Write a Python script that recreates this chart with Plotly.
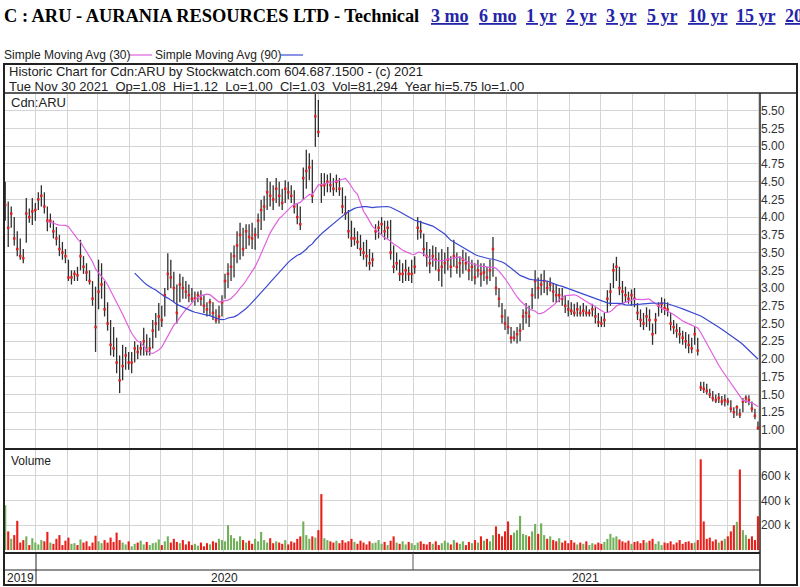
import plotly.graph_objects as go
import pandas as pd

# ---------------- data (~every 2 trading days) ----------------
high = [4.50, 4.22, 4.15, 4.00, 3.80, 3.70, 3.55, 4.27, 4.12, 4.27,
        4.20, 4.35, 4.45, 4.35, 4.15, 4.05, 3.95, 3.86, 3.75, 3.65,
        3.55, 3.40, 3.25, 3.25, 3.30, 3.68, 3.45, 3.35, 3.25, 3.10,
        3.02, 3.40, 3.35, 3.10, 2.80, 2.55, 2.45, 2.30, 2.05, 2.20,
        2.17, 2.10, 2.10, 2.25, 2.20, 2.25, 2.44, 2.35, 2.30, 2.55,
        2.65, 2.79, 2.75, 3.00, 3.49, 3.40, 3.23, 3.05, 3.20, 3.16,
        3.10, 3.05, 3.00, 2.95, 2.95, 2.97, 2.90, 2.80, 2.85, 2.80,
        2.70, 2.75, 2.90, 3.20, 3.35, 3.50, 3.60, 3.80, 3.92, 3.85,
        3.90, 3.90, 3.92, 3.85, 4.05, 4.24, 4.30, 4.55, 4.50, 4.45,
        4.55, 4.50, 4.40, 4.52, 4.50, 4.45, 4.38, 4.20, 4.15, 4.70,
        4.95, 4.90, 4.81, 5.75, 5.65, 4.62, 4.62, 4.60, 4.62, 4.55,
        4.60, 4.55, 4.42, 4.30, 4.10, 3.95, 3.85, 3.80, 3.75, 3.65,
        3.68, 3.55, 3.50, 3.90, 3.95, 4.00, 3.95, 3.95, 3.96, 3.60,
        3.50, 3.40, 3.35, 3.40, 3.30, 3.40, 3.45, 4.00, 3.95, 3.77,
        3.65, 3.55, 3.60, 3.58, 3.50, 3.55, 3.50, 3.58, 3.45, 3.68,
        3.50, 3.45, 3.54, 3.50, 3.45, 3.40, 3.35, 3.40, 3.35, 3.35,
        3.30, 3.40, 3.72, 3.16, 3.00, 2.79, 2.70, 2.60, 2.45, 2.40,
        2.45, 2.50, 2.70, 2.79, 2.75, 3.00, 3.25, 3.15, 3.20, 3.25,
        3.10, 3.15, 3.07, 3.05, 3.00, 3.00, 2.90, 2.83, 2.80, 2.78,
        2.80, 2.75, 2.79, 2.75, 2.70, 2.78, 2.73, 2.65, 2.60, 2.65,
        2.97, 3.07, 3.35, 3.44, 3.30, 3.10, 3.02, 2.95, 2.98, 3.00,
        2.79, 2.70, 2.65, 2.73, 2.70, 2.50, 2.65, 2.80, 2.87, 2.85,
        2.80, 2.65, 2.55, 2.50, 2.45, 2.40, 2.38, 2.35, 2.30, 2.45,
        2.30, 1.68, 1.68, 1.65, 1.58, 1.55, 1.50, 1.52, 1.48, 1.50,
        1.45, 1.42, 1.32, 1.35, 1.30, 1.45, 1.49, 1.49, 1.40, 1.30,
        1.12]
low = [3.95, 3.58, 3.85, 3.60, 3.45, 3.40, 3.35, 3.64, 3.92, 3.89,
       3.95, 4.10, 4.15, 4.05, 3.80, 3.85, 3.70, 3.60, 3.45, 3.40,
       3.35, 3.10, 3.05, 3.10, 3.10, 3.25, 3.20, 3.10, 3.05, 2.75,
       2.10, 2.70, 2.85, 2.60, 2.40, 2.05, 2.03, 1.80, 1.52, 1.70,
       1.85, 1.85, 1.80, 1.95, 2.00, 2.05, 2.05, 2.05, 2.05, 2.15,
       2.30, 2.40, 2.45, 2.60, 2.97, 3.00, 2.80, 2.50, 2.80, 2.85,
       2.85, 2.80, 2.80, 2.75, 2.80, 2.75, 2.65, 2.60, 2.62, 2.55,
       2.50, 2.50, 2.60, 2.85, 3.00, 3.10, 3.15, 3.35, 3.40, 3.45,
       3.55, 3.60, 3.55, 3.54, 3.70, 3.82, 3.95, 4.10, 4.15, 4.10,
       4.20, 4.15, 4.10, 4.20, 4.25, 4.20, 4.05, 3.90, 3.82, 4.24,
       4.40, 4.52, 4.20, 4.99, 5.13, 4.20, 4.30, 4.35, 4.35, 4.30,
       4.35, 4.30, 4.05, 3.96, 3.70, 3.58, 3.60, 3.55, 3.45, 3.40,
       3.30, 3.25, 3.30, 3.68, 3.70, 3.75, 3.68, 3.70, 3.40, 3.21,
       3.25, 3.10, 3.07, 3.10, 3.10, 3.07, 3.20, 3.68, 3.70, 3.45,
       3.30, 3.21, 3.30, 3.25, 3.10, 3.02, 3.20, 3.25, 3.15, 3.30,
       3.20, 3.15, 3.20, 3.25, 3.11, 3.10, 3.05, 3.15, 3.02, 3.10,
       3.05, 3.10, 3.16, 2.90, 2.73, 2.50, 2.41, 2.35, 2.22, 2.25,
       2.22, 2.25, 2.41, 2.50, 2.45, 2.70, 2.85, 2.85, 2.90, 2.93,
       2.90, 2.95, 2.80, 2.79, 2.80, 2.75, 2.65, 2.60, 2.62, 2.60,
       2.60, 2.60, 2.60, 2.60, 2.60, 2.60, 2.50, 2.45, 2.45, 2.45,
       2.65, 2.75, 3.00, 3.10, 2.90, 2.79, 2.80, 2.78, 2.75, 2.73,
       2.55, 2.45, 2.41, 2.45, 2.40, 2.20, 2.35, 2.60, 2.65, 2.62,
       2.60, 2.40, 2.35, 2.30, 2.22, 2.20, 2.15, 2.08, 2.08, 2.20,
       2.05, 1.55, 1.52, 1.50, 1.45, 1.40, 1.38, 1.38, 1.35, 1.33,
       1.35, 1.25, 1.17, 1.20, 1.17, 1.25, 1.38, 1.35, 1.25, 1.15,
       1.00]
close = [4.17, 3.85, 4.05, 3.70, 3.55, 3.45, 3.42, 4.05, 4.00, 4.08,
         4.10, 4.25, 4.30, 4.15, 3.95, 3.95, 3.80, 3.70, 3.55, 3.50,
         3.45, 3.15, 3.15, 3.20, 3.18, 3.45, 3.30, 3.22, 3.10, 2.85,
         2.45, 2.95, 3.05, 2.70, 2.50, 2.20, 2.15, 1.95, 1.70, 1.90,
         2.05, 1.95, 1.95, 2.15, 2.10, 2.15, 2.25, 2.12, 2.15, 2.40,
         2.50, 2.60, 2.55, 2.90, 3.20, 3.15, 3.00, 2.65, 3.05, 3.00,
         2.95, 2.90, 2.85, 2.85, 2.90, 2.85, 2.75, 2.70, 2.80, 2.65,
         2.55, 2.60, 2.80, 3.10, 3.20, 3.30, 3.45, 3.60, 3.75, 3.55,
         3.80, 3.72, 3.70, 3.75, 3.95, 4.10, 4.15, 4.35, 4.30, 4.25,
         4.40, 4.30, 4.20, 4.40, 4.35, 4.30, 4.15, 4.00, 3.90, 4.55,
         4.65, 4.70, 4.30, 5.42, 5.20, 4.45, 4.45, 4.50, 4.45, 4.40,
         4.50, 4.40, 4.15, 4.05, 3.80, 3.70, 3.70, 3.65, 3.55, 3.50,
         3.45, 3.35, 3.40, 3.80, 3.85, 3.90, 3.80, 3.85, 3.50, 3.30,
         3.35, 3.20, 3.20, 3.25, 3.20, 3.20, 3.30, 3.85, 3.80, 3.55,
         3.45, 3.35, 3.45, 3.40, 3.25, 3.30, 3.35, 3.40, 3.30, 3.45,
         3.30, 3.35, 3.40, 3.35, 3.25, 3.30, 3.15, 3.25, 3.20, 3.22,
         3.15, 3.25, 3.55, 3.00, 2.85, 2.60, 2.50, 2.45, 2.30, 2.30,
         2.35, 2.40, 2.60, 2.65, 2.60, 2.90, 3.10, 3.00, 3.05, 3.10,
         3.00, 3.05, 2.95, 2.90, 2.90, 2.85, 2.75, 2.70, 2.68, 2.65,
         2.70, 2.65, 2.68, 2.65, 2.65, 2.70, 2.60, 2.52, 2.50, 2.55,
         2.85, 2.95, 3.25, 3.30, 3.00, 2.95, 2.90, 2.85, 2.90, 2.85,
         2.65, 2.55, 2.50, 2.60, 2.55, 2.35, 2.55, 2.75, 2.78, 2.72,
         2.70, 2.50, 2.45, 2.40, 2.35, 2.30, 2.25, 2.20, 2.15, 2.35,
         2.12, 1.60, 1.58, 1.55, 1.50, 1.45, 1.42, 1.45, 1.40, 1.42,
         1.40, 1.30, 1.25, 1.32, 1.22, 1.40, 1.45, 1.42, 1.30, 1.20,
         1.03]
volume_k = [360, 150, 90, 120, 235, 60, 80, 110, 40, 95,
            60, 45, 80, 70, 146, 60, 50, 90, 120, 40,
            75, 100, 50, 55, 40, 85, 60, 70, 30, 60,
            115, 70, 55, 80, 60, 100, 65, 140, 80, 60,
            45, 70, 30, 50, 60, 75, 45, 65, 40, 55,
            60, 85, 40, 70, 110, 60, 90, 65, 55, 80,
            45, 70, 40, 50, 35, 60, 30, 55, 45, 70,
            60, 90, 80, 70, 200, 120, 95, 70, 110, 80,
            60, 75, 50, 90, 70, 146, 80, 60, 95, 55,
            70, 60, 50, 80, 45, 70, 60, 90, 110, 230,
            120, 90, 110, 100, 160, 450, 95, 80, 70, 60,
            75, 55, 80, 60, 70, 90, 65, 50, 75, 60,
            45, 70, 55, 60, 80, 50, 65, 40, 75, 110,
            60, 50, 70, 45, 65, 55, 40, 60, 70, 50,
            45, 65, 50, 70, 40, 55, 75, 60, 45, 80,
            60, 50, 70, 40, 65, 55, 80, 60, 110, 75,
            90, 70, 120, 190, 130, 110, 150, 230, 120, 140,
            160, 275, 130, 120, 110, 150, 210, 130, 215, 120,
            90, 110, 80, 70, 95, 60, 75, 55, 80, 60,
            45, 60, 50, 70, 40, 55, 45, 60, 50, 65,
            90, 130, 100, 110, 85, 70, 60, 75, 50, 65,
            70, 55, 80, 60, 75, 90, 50, 70, 40, 60,
            55, 70, 45, 60, 80, 50, 65, 70, 55, 60,
            80, 730, 230, 90, 100, 70, 85, 60, 75, 90,
            110, 150, 200, 227, 648, 160, 120, 90, 110, 80,
            272]

price_ticks = [1.00, 1.25, 1.50, 1.75, 2.00, 2.25, 2.50, 2.75, 3.00, 3.25,
               3.50, 3.75, 4.00, 4.25, 4.50, 4.75, 5.00, 5.25, 5.50]
volume_ticks = [200000, 400000, 600000]
volume_tick_labels = ["200 k", "400 k", "600 k"]
year_labels = ["2019", "2020", "2021"]
links = ["3 mo", "6 mo", "1 yr", "2 yr", "3 yr", "5 yr", "10 yr", "15 yr", "20 yr"]

# ---------------- derived ----------------
N = len(close)
dates = pd.date_range("2019-12-02 12:00", "2021-11-30 12:00", periods=N)
s = pd.Series(close)
sma30 = s.rolling(15).mean()   # ~30 trading days
sma90 = s.rolling(44).mean()   # ~90 trading days
volume = [v * 1000 for v in volume_k]
vcolors = ["#e8201a" if (i > 0 and close[i] < close[i - 1]) else "#72b05a" for i in range(N)]

W, H = 800, 587
def PX(x): return x / W
def PY(y): return 1 - y / H

SANS = "Arial, Liberation Sans, sans-serif"
SERIF = "Times New Roman, Liberation Serif, serif"
GRID = "#d4d4d4"

fig = go.Figure()

bx, by = [], []
for d, h, l in zip(dates, high, low):
    bx += [d, d, None]
    by += [l, h, None]
fig.add_trace(go.Scatter(x=bx, y=by, mode="lines", line=dict(color="#303030", width=1.3),
                         xaxis="x", yaxis="y", hoverinfo="skip", showlegend=False))
fig.add_trace(go.Scatter(x=dates, y=close, mode="markers",
                         marker=dict(color="#e02020", size=2.5, symbol="square", line=dict(width=0)),
                         xaxis="x", yaxis="y", showlegend=False))
fig.add_trace(go.Scatter(x=dates, y=sma30, mode="lines", line=dict(color="#e060e0", width=1.2),
                         xaxis="x", yaxis="y", showlegend=False))
fig.add_trace(go.Scatter(x=dates, y=sma90, mode="lines", line=dict(color="#3a48d0", width=1.2),
                         xaxis="x", yaxis="y", showlegend=False))
fig.add_trace(go.Bar(x=dates, y=volume, marker=dict(color=vcolors, line=dict(width=0)),
                     xaxis="x2", yaxis="y2", showlegend=False))

xr = ["2019-12-02 07:00", "2021-12-02 12:00"]
xcommon = dict(type="date", range=xr, showticklabels=False, showgrid=True, gridcolor=GRID,
               gridwidth=1, dtick="M1", tick0="2020-01-01", zeroline=False, showline=False, ticks="")
fig.update_layout(
    width=W, height=H, margin=dict(l=0, r=0, t=0, b=0),
    paper_bgcolor="white", plot_bgcolor="white", bargap=0.3,
    xaxis=dict(domain=[PX(5), PX(760)], anchor="y", **xcommon),
    xaxis2=dict(domain=[PX(5), PX(760)], anchor="y2", matches="x", **xcommon),
    yaxis=dict(domain=[PY(448), PY(94)], range=[0.746, 5.735], side="right", anchor="x",
               tickvals=price_ticks, ticktext=["%.2f" % v for v in price_ticks],
               showgrid=True, gridcolor=GRID, zeroline=False, ticks="",
               tickfont=dict(family=SANS, size=12, color="#333")),
    yaxis2=dict(domain=[PY(553), PY(450)], range=[-24000, 805000], side="right", anchor="x2",
                tickvals=volume_ticks, ticktext=volume_tick_labels,
                showgrid=True, gridcolor=GRID, zeroline=False, ticks="",
                tickfont=dict(family=SANS, size=12, color="#333")),
)

shapes = []
def line(x0, y0, x1, y1, w=1, c="#222"):
    shapes.append(dict(type="line", xref="paper", yref="paper", x0=PX(x0), y0=PY(y0), x1=PX(x1), y1=PY(y1),
                       line=dict(color=c, width=w), layer="above"))
shapes.append(dict(type="rect", xref="paper", yref="paper", x0=PX(4), y0=PY(585), x1=PX(797), y1=PY(64),
                   line=dict(color="#222", width=2), layer="above"))
line(4, 93, 797, 93, 1.5)
line(760, 93, 760, 585, 1.5)
line(4, 449, 797, 449, 2)
line(4, 553, 760, 553, 2)
line(4, 570, 760, 570, 1)
line(36, 553, 36, 585, 1)
line(413, 553, 413, 570, 1, "#555")
# legend swatches
line(129, 55, 152, 55, 1.2, "#e060e0")
line(281, 55, 303, 55, 1.2, "#3a48d0")

annotations = []
def text(x, y, t, size=12, family=SANS, color="#222", xanchor="left"):
    annotations.append(dict(xref="paper", yref="paper", x=PX(x), y=PY(y), text=t, showarrow=False,
                            xanchor=xanchor, yanchor="middle", font=dict(family=family, size=size, color=color)))

text(2, 16, "<b>C : ARU - AURANIA RESOURCES LTD - Technical</b>", 18.4, SERIF, "#000")
link_x = [429, 477, 524, 564, 604, 645, 686, 734, 783]
for lx, lt in zip(link_x, links):
    text(lx, 16, "<b><u>%s</u></b>" % lt, 18, SERIF, "#2424a8")
text(2, 55, "Simple Moving Avg (30)", 12, SANS, "#222")
text(153, 55, "Simple Moving Avg (90)", 12, SANS, "#222")
text(7, 72, "Historic Chart for Cdn:ARU by Stockwatch.com 604.687.1500 - (c) 2021", 13, SANS, "#222")
text(7, 86.5, "Tue Nov 30 2021  Op=1.08  Hi=1.12  Lo=1.00  Cl=1.03  Vol=81,294  Year hi=5.75 lo=1.00",
     13, SANS, "#222")
text(9, 102, "Cdn:ARU", 13, SANS, "#222")
text(9, 461, "Volume", 12, SANS, "#222")
year_x = [20, 224, 585]
for yx, yl in zip(year_x, year_labels):
    text(yx, 578, yl, 12, SANS, "#222", xanchor="center")

fig.update_layout(shapes=shapes, annotations=annotations)
fig.write_html("out.html", config={"displayModeBar": False},
               post_script="document.body.style.margin='0';document.body.style.padding='0';")
